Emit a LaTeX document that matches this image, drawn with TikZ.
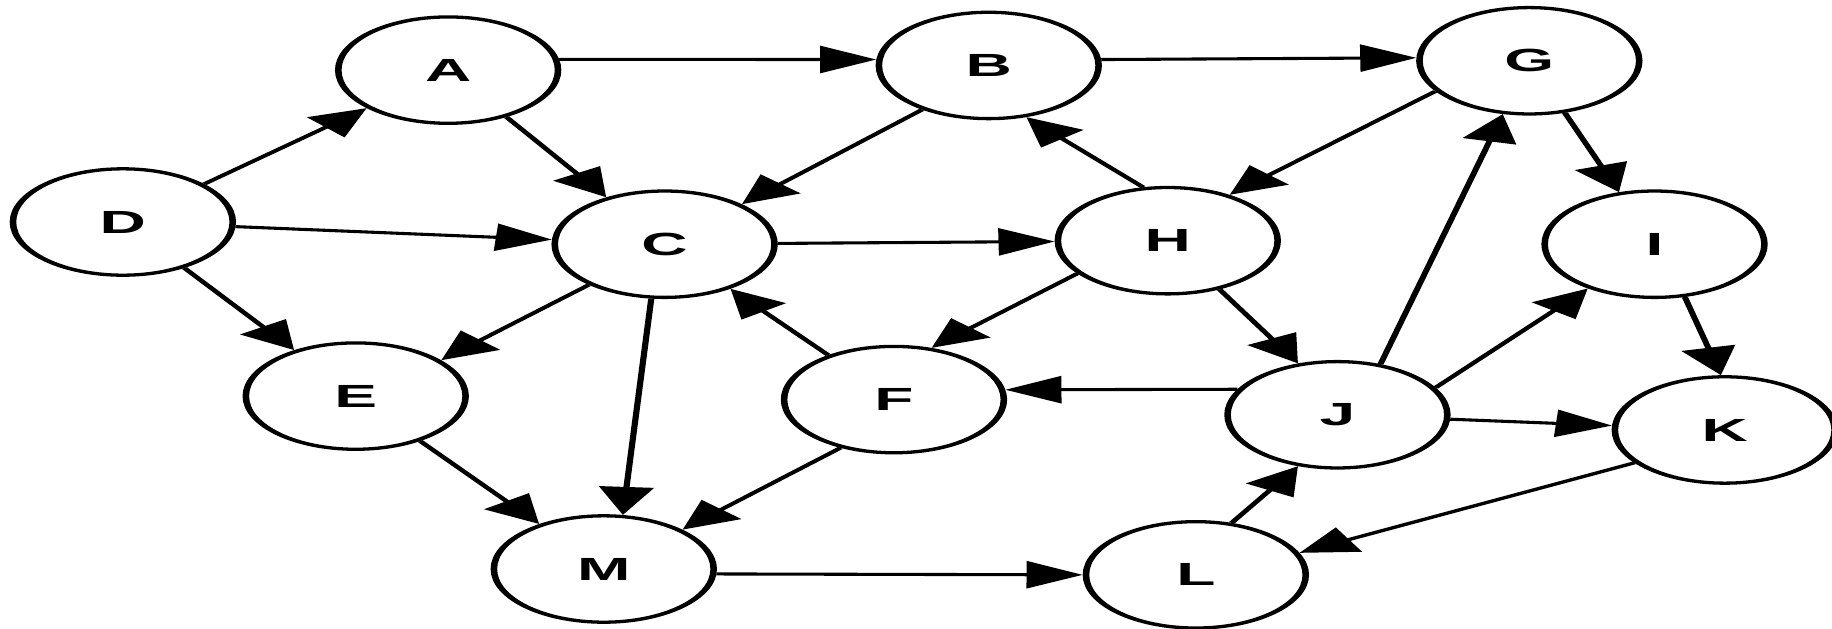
\documentclass[tikz,border=0pt]{standalone}
\usepackage{fontspec}
\setmainfont{Liberation Sans}
\usetikzlibrary{arrows.meta,shapes.geometric}
\begin{document}
\begin{tikzpicture}[x=0.01cm,y=-0.01cm]
\useasboundingbox[fill=white] (0,0) rectangle (1568,538);
\begin{scope}[transform canvas={xscale=2}, x=0.005cm, y=-0.01cm,
  vnode/.style={ellipse, draw, line width=0.8pt, minimum width=0.94cm, minimum height=0.91cm, inner sep=0pt, font=\fontsize{7.8}{9}\selectfont\bfseries},
  conn/.style={line width=0.75pt, -{Triangle[length=2.4mm,width=2.3mm]}}]
\node[vnode] (A) at (383,60) {A};
\node[vnode] (B) at (845,56) {B};
\node[vnode] (G) at (1307,52) {G};
\node[vnode] (D) at (105,190) {D};
\node[vnode] (C) at (568,209) {C};
\node[vnode] (H) at (998,206) {H};
\node[vnode] (I) at (1414,209) {I};
\node[vnode] (E) at (304,339) {E};
\node[vnode] (F) at (764,342) {F};
\node[vnode] (J) at (1143,355) {J};
\node[vnode] (K) at (1474,368) {K};
\node[vnode] (M) at (516,487) {M};
\node[vnode] (L) at (1022,492) {L};
\draw[conn] (A.11) -- (B.174);
\draw[conn] (B.6) -- (G.177);
\draw[conn] (D) -- (A);
\draw[conn] (A) -- (C);
\draw[conn] (B.233) -- (C.46);
\draw[conn] (G.213) -- (H.56);
\draw[conn] (H.103) -- (B.290);
\draw[conn] (G) -- (I);
\draw[conn] (D) -- (C);
\draw[conn] (C) -- (H);
\draw[conn] (D) -- (E);
\draw[conn] (C.227) -- (E.40);
\draw[conn] (C.263) -- (M.80);
\draw[conn] (F) -- (C);
\draw[conn] (H.216) -- (F.70);
\draw[conn] (H.298) -- (J.111);
\draw[conn] (J.67) -- (G.256);
\draw[conn] (J.29) -- (I.233);
\draw[conn] (I.286) -- (K.92);
\draw[conn] (J.153) -- (F.10);
\draw[conn] (J) -- (K);
\draw[conn] (E) -- (M);
\draw[conn] (F.241) -- (M.45);
\draw[conn] (M.355) -- (L.180);
\draw[conn] (L.71) -- (J.249);
\draw[conn] (K.216) -- (L.23);
\end{scope}
\end{tikzpicture}
\end{document}
